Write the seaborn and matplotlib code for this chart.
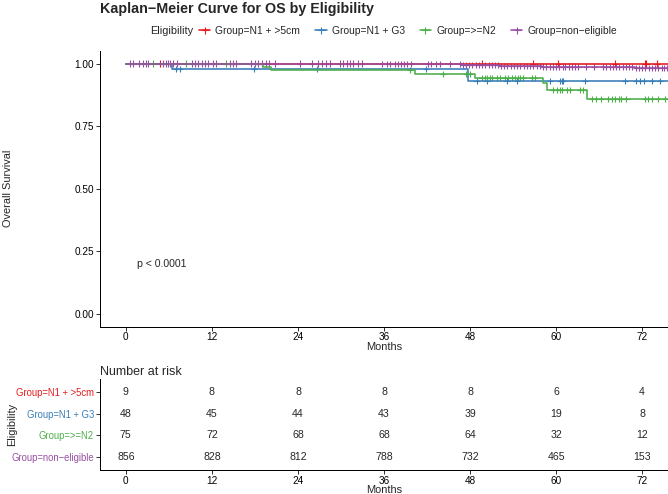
import matplotlib
matplotlib.use("Agg")
import seaborn as sns
import matplotlib.pyplot as plt
from matplotlib.lines import Line2D
import numpy as np
import pandas as pd

# 组别与颜色
groups = ["Group=N1 + >5cm", "Group=N1 + G3", "Group=>=N2", "Group=non\u2212eligible"]
colors = ["#E41A1C", "#377EB8", "#4DAF4A", "#984EA3"]

# 生存曲线台阶 (时间, 生存率)
red_t = [0]
red_s = [1.0]
blue_t = [0, 6.4, 47.7]
blue_s = [1.0, 0.979, 0.930]
green_t = [0, 19.1, 20.2, 40.3, 48.7, 58.2, 58.7, 64.3]
green_s = [1.0, 0.986, 0.973, 0.959, 0.943, 0.924, 0.893, 0.858]
purple_t = [0, 33.0, 47.0, 52.0, 58.0, 66.0, 71.0]
purple_s = [1.0, 0.997, 0.994, 0.991, 0.988, 0.985, 0.981]
end_time = 76

# 删失时间
red_c = [4.7, 49.6, 56.8, 60.3, 68.2, 72.4, 72.6, 74.0]
blue_c = [7.0, 7.5, 17.9, 26.6, 41.9, 48.9, 50.3, 53.1, 54.5, 59.1, 60.5, 60.8,
          61.0, 64.0, 69.6, 71.2, 71.7, 72.2, 73.3, 74.5]
green_c = [3.8, 8.4, 13.9, 39.6, 44.2, 47.5, 48.0, 49.6, 50.1, 50.4, 50.8, 51.1,
           51.7, 52.2, 52.9, 53.3, 53.8, 54.2, 54.7, 55.0, 55.4, 56.6, 57.0, 59.6,
           60.1, 60.5, 60.8, 61.5, 61.9, 63.3, 63.8, 65.0, 65.6, 66.3, 67.3, 67.8,
           68.2, 68.7, 69.1, 69.8, 72.4, 72.8, 73.3, 74.2, 75.2]
purple_c = [0.6, 1.0, 1.9, 2.4, 2.8, 3.1, 5.2, 5.6, 5.9, 6.2, 6.6, 7.2, 9.2, 9.6,
            10.1, 10.6, 11.0, 11.5, 12.2, 12.6, 14.5, 15.0, 15.3, 17.5, 18.0, 18.5,
            19.0, 19.5, 19.9, 20.8, 24.3, 25.9, 26.8, 27.3, 27.9, 28.5, 29.8, 30.3,
            30.8, 31.2, 31.7, 32.4, 32.9, 35.7, 36.4, 36.8, 37.5, 38.0, 38.4, 38.8,
            39.2, 39.7, 42.1, 42.6, 43.2, 43.8, 45.2, 46.6, 47.0, 47.4, 47.9, 48.3,
            48.8, 49.2, 49.7, 50.1, 50.6, 51.0, 51.5, 51.9, 52.3, 52.8, 53.2, 53.7,
            54.1, 54.6, 55.0, 55.5, 55.9, 56.4, 56.8, 57.3, 57.7, 58.2, 58.6, 59.1,
            59.5, 60.0, 60.4, 60.9, 61.3, 61.8, 62.2, 62.7, 63.1, 64.2, 65.3, 66.6,
            67.0, 67.5, 67.9, 68.4, 68.8, 69.3, 69.7, 70.2, 70.6, 71.1, 71.5, 72.0,
            72.4, 72.9, 73.3, 73.8, 74.2, 74.7, 75.1, 75.5]

# 风险人数
risk_times = [0, 12, 24, 36, 48, 60, 72]
red_risk = [9, 8, 8, 8, 8, 6, 4]
blue_risk = [48, 45, 44, 43, 39, 19, 8]
green_risk = [75, 72, 68, 68, 64, 32, 12]
purple_risk = [856, 828, 812, 788, 732, 465, 153]

steps = [(red_t, red_s), (blue_t, blue_s), (green_t, green_s), (purple_t, purple_s)]
cens = [red_c, blue_c, green_c, purple_c]
risks = [red_risk, blue_risk, green_risk, purple_risk]

rows, crows = [], []
for g, (t, s), c in zip(groups, steps, cens):
    for ti, si in zip(t + [end_time], s + [s[-1]]):
        rows.append({"time": ti, "surv": si, "group": g})
    for ci in c:
        idx = np.searchsorted(t, ci, side="right") - 1
        crows.append({"time": ci, "surv": s[idx], "group": g})
curve_df = pd.DataFrame(rows)
cens_df = pd.DataFrame(crows)

sns.set_style("white")
plt.rcParams["font.family"] = ["Liberation Sans", "DejaVu Sans"]

fig = plt.figure(figsize=(668 / 72, 494 / 72), dpi=72)
ax = fig.add_axes([100 / 668, 1 - 326.5 / 494, 568 / 668, 275.5 / 494])
ax2 = fig.add_axes([100 / 668, 1 - 470 / 494, 568 / 668, 91 / 494])

pal = dict(zip(groups, colors))
sns.lineplot(data=curve_df, x="time", y="surv", hue="group", hue_order=groups,
             palette=pal, drawstyle="steps-post", estimator=None, sort=False,
             legend=False, lw=1.6, ax=ax)
sns.scatterplot(data=cens_df, x="time", y="surv", hue="group", hue_order=groups,
                palette=pal, marker="+", s=40, linewidth=1.1, legend=False, ax=ax)

ax.set_xlim(-3.6, 75.6)
ax.set_ylim(-0.05, 1.05)
ax.set_xticks(risk_times)
ax.set_yticks([0, 0.25, 0.5, 0.75, 1.0])
ax.set_yticklabels(["0.00", "0.25", "0.50", "0.75", "1.00"])
ax.set_xlabel("Months", fontsize=11, labelpad=-1)
ax.set_ylabel("Overall Survival", fontsize=11)
ax.yaxis.set_label_coords(-0.153, 0.5)
ax.text(1.6, 0.2, "p < 0.0001", fontsize=10.5, ha="left", va="center")

for a in (ax, ax2):
    for sp in ["top", "right"]:
        a.spines[sp].set_visible(False)
    for sp in ["left", "bottom"]:
        a.spines[sp].set_color("black")
        a.spines[sp].set_linewidth(1.0)
    a.tick_params(axis="both", length=4, width=0.8, color="black",
                  labelsize=10, labelcolor="black", pad=2, left=True, bottom=True)

# 风险表
for i, r in enumerate(risks):
    for t, n in zip(risk_times, r):
        ax2.text(t, i, str(n), ha="center", va="center", fontsize=10.5)
ax2.set_xlim(-3.6, 75.6)
ax2.set_ylim(3.6, -0.6)
ax2.set_xticks(risk_times)
ax2.set_yticks(range(4))
ax2.set_yticklabels(groups, fontsize=9.5)
for lab, c in zip(ax2.get_yticklabels(), colors):
    lab.set_color(c)
ax2.set_xlabel("Months", fontsize=11, labelpad=-1)
ax2.set_ylabel("Eligibility", fontsize=11)
ax2.yaxis.set_label_coords(-0.146, 0.5)
ax2.set_title("Number at risk", loc="left", fontsize=12.5, pad=4)

fig.text(100 / 668, 1 - 9 / 494, "Kaplan\u2212Meier Curve for OS by Eligibility",
         fontsize=14.2, fontweight="bold", ha="left", va="center")
fig.text(150 / 668, 1 - 31 / 494, "Eligibility", fontsize=11, ha="left", va="center")
handles = [Line2D([], [], color=c, lw=1.6, marker="+", markersize=7, mew=1.1) for c in colors]
fig.legend(handles, groups, loc="center left", bbox_to_anchor=(199 / 668, 1 - 31 / 494),
           ncol=4, frameon=False, fontsize=10.3, handlelength=1.1, handletextpad=0.5,
           columnspacing=1.45, borderaxespad=0, borderpad=0)

fig.savefig("out.png", dpi=72)
